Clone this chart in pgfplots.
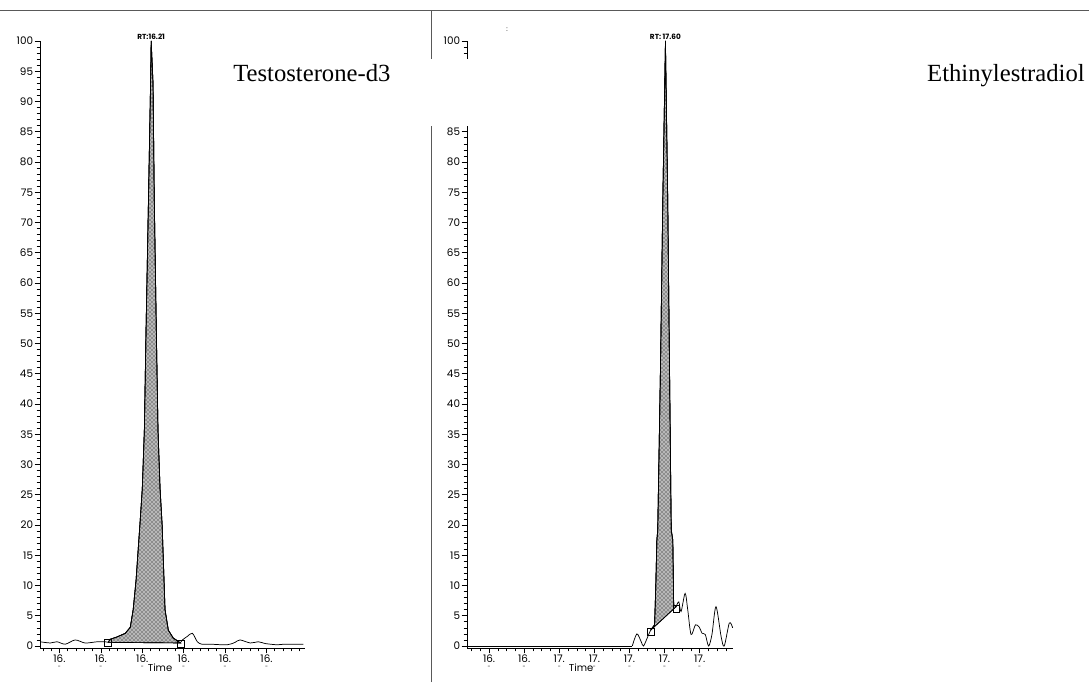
\documentclass[border=0pt]{standalone}
\usepackage{pgfplots}
\pgfplotsset{compat=1.18}
\usetikzlibrary{patterns}
\usepackage{fontspec}
\setmainfont{Liberation Serif}
\newfontfamily\tickfont{Poppins}

% tick label: "16." with the cut-off second line below it
\newcommand\tl[1]{#1.\\[-3.5pt]{\fontsize{4}{4}\selectfont -}}

\pgfplotsset{
  chrom/.style={
    scale only axis, height=455.25pt,
    axis x line*=bottom, axis y line*=left,
    ymin=-0.33, ymax=100,
    ytick={0,5,...,100}, minor y tick num=4,
    tick align=outside,
    major tick length=4pt, minor tick length=2.5pt,
    tick style={black, line width=0.5pt},
    axis line style={line width=0.6pt},
    ticklabel style={font=\tickfont\fontsize{7.8}{8}\selectfont},
    /pgf/number format/assume math mode=true,
    xticklabel style={align=center, inner sep=1pt},
    yticklabel style={inner sep=1pt},
    clip=false,
    xlabel={Time},
    xlabel style={font=\tickfont\fontsize{7.5}{8}\selectfont, anchor=center},
  },
  trace/.style={black, line width=0.55pt, mark=none},
  noise/.style={trace, smooth, tension=0.5},
  area/.style={draw=black, line width=0.5pt, fill=black!28,
    postaction={pattern=crosshatch dots}},
  box/.style={only marks, mark=square, mark size=2.6pt, mark options={line width=0.5pt}},
}

\begin{document}
\begin{tikzpicture}
\useasboundingbox (0,0) rectangle (816.75pt,511.5pt);

% left panel: Testosterone-d3
\begin{axis}[chrom,
    at={(30pt,25.5pt)}, anchor=south west, width=198.75pt,
    xmin=15.953, xmax=16.593,
    xtick={16.0,16.1,16.2,16.3,16.4,16.5},
    xticklabels={{\tl{16}},{\tl{16}},{\tl{16}},{\tl{16}},{\tl{16}},{\tl{16}}},
    minor xtick={15.96,15.98,...,16.58},
    xlabel style={at={(rel axis cs:0.453,0)}, yshift=-15pt},
]
\addplot[area] coordinates {
  (16.118,0.6) (16.122,1.1) (16.139,1.5) (16.159,2.1) (16.171,3.1)
  (16.178,6) (16.185,10.9) (16.195,20.8) (16.200,26) (16.205,35.7)
  (16.209,52) (16.215,74) (16.220,93) (16.2215,100) (16.226,93)
  (16.229,74) (16.234,52) (16.238,35.7) (16.243,26) (16.248,20)
  (16.251,14) (16.253,10) (16.255,6) (16.263,2.6) (16.275,1.3)
  (16.284,0.9) (16.292,0.5)
} -- cycle;
\addplot[noise] coordinates {
  (15.953,0.7) (15.978,0.5) (15.994,0.7) (16.014,0.3) (16.038,1.0)
  (16.062,0.5) (16.091,0.7) (16.110,0.7) (16.118,0.6)
};
\addplot[trace] coordinates {
  (16.118,0.6) (16.122,1.1)
  (16.139,1.5) (16.159,2.1) (16.171,3.1) (16.178,6) (16.185,10.9)
  (16.195,20.8) (16.200,26) (16.205,35.7) (16.209,52) (16.215,74)
  (16.220,93) (16.2215,100) (16.226,93) (16.229,74) (16.234,52)
  (16.238,35.7) (16.243,26) (16.248,20) (16.251,14) (16.253,10)
  (16.255,6) (16.263,2.6) (16.275,1.3) (16.284,0.9) (16.292,0.5)
};
\addplot[noise] coordinates {
  (16.292,0.5)
  (16.297,1.0) (16.309,1.6) (16.321,2.1) (16.333,0.7) (16.344,0.3)
  (16.364,0.3) (16.405,0.2) (16.424,0.6) (16.436,1.0) (16.461,0.5)
  (16.480,0.7) (16.497,0.4) (16.509,0.3) (16.526,0.2) (16.545,0.3)
  (16.589,0.3)
};
\addplot[box] coordinates {(16.117,0.5) (16.292,0.4)};
\node[above, inner sep=1pt, font=\tickfont\bfseries\fontsize{5.5}{6}\selectfont]
  at (axis cs:16.2215,100) {RT:16.21};
\end{axis}

% right panel: Ethinylestradiol
\begin{axis}[chrom,
    at={(350.25pt,25.5pt)}, anchor=south west, width=199.5pt,
    xmin=16.474, xmax=17.99,
    xtick={16.6,16.8,17.0,17.2,17.4,17.6,17.8},
    xticklabels={{\tl{16}},{\tl{16}},{\tl{17}},{\tl{17}},{\tl{17}},{\tl{17}},{\tl{17}}},
    minor xtick={16.5,16.55,...,17.95},
    xlabel style={at={(rel axis cs:0.429,0)}, yshift=-15pt},
]
\addplot[area] coordinates {
  (17.520,2.6) (17.543,3.5) (17.550,10) (17.556,17.5) (17.561,19.2)
  (17.577,46.8) (17.590,74) (17.605,100) (17.618,74) (17.628,46.8)
  (17.638,19.2) (17.647,17.5) (17.652,6.8) (17.666,6.5)
} -- cycle;
\addplot[trace] coordinates {(16.474,0) (17.416,0)};
\addplot[noise] coordinates {
  (17.416,0) (17.442,2.0) (17.467,0.7) (17.480,0.0)
  (17.505,1.6) (17.520,2.6)
};
\addplot[trace] coordinates {
  (17.520,2.6) (17.543,3.5) (17.550,10) (17.556,17.5)
  (17.561,19.2) (17.577,46.8) (17.590,74) (17.605,100) (17.618,74)
  (17.628,46.8) (17.638,19.2) (17.647,17.5) (17.652,6.8) (17.666,6.5)
};
\addplot[noise] coordinates {
  (17.666,6.5)
  (17.681,7.3) (17.694,5.7) (17.717,8.7) (17.732,6.0) (17.751,1.9)
  (17.776,3.5) (17.798,3.1) (17.814,2.1) (17.832,1.9) (17.851,0)
  (17.870,1.9) (17.893,6.5) (17.922,1.6) (17.940,0) (17.969,3.8)
  (17.988,3.0)
};
\addplot[box] coordinates {(17.520,2.3) (17.667,6.1)};
\node[above, inner sep=1pt, font=\tickfont\bfseries\fontsize{5.5}{6}\selectfont]
  at (axis cs:17.605,100) {RT: 17.60};
\end{axis}

% frame lines of the scanned page
\draw[black!65, line width=0.9pt] (0,503.6pt) -- (816.75pt,503.6pt);
\draw[black!65, line width=0.9pt] (323.6pt,0) -- (323.6pt,503.6pt);
% erased strip over the right panel's upper ticks
\fill[white] (318pt,417pt) rectangle (420pt,467.25pt);
\node[font=\tickfont\fontsize{5}{5}\selectfont] at (380.25pt,489pt) {:};

% compound names
\node[anchor=base west, inner sep=0pt, font=\fontsize{18.5}{20}\selectfont]
  at (174.75pt,450pt) {Testosterone-d3};
\node[anchor=base east, inner sep=0pt, font=\fontsize{18.5}{20}\selectfont]
  at (813.75pt,450pt) {Ethinylestradiol};
\end{tikzpicture}
\end{document}
